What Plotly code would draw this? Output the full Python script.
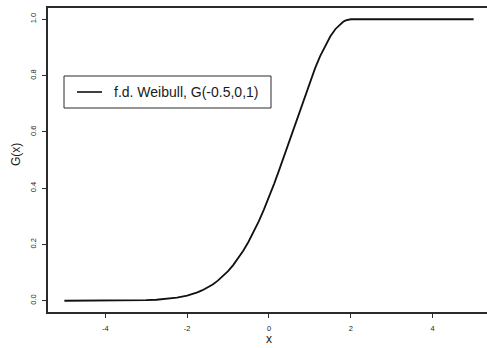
import plotly.graph_objects as go

# Data (GEV Weibull-type cdf, G(-0.5,0,1))
x_vals = [-5.0, -4.75, -4.5, -4.25, -4.0, -3.75, -3.5, -3.25, -3.0, -2.75, -2.5,
          -2.25, -2.0, -1.875, -1.75, -1.625, -1.5, -1.375, -1.25, -1.125, -1.0,
          -0.875, -0.75, -0.625, -0.5, -0.375, -0.25, -0.125, 0.0,
          0.125, 0.25, 0.375, 0.5, 0.625, 0.75, 0.875, 1.0, 1.125, 1.25, 1.375,
          1.5, 1.625, 1.75, 1.8125, 1.875, 1.9375, 2.0,
          2.5, 3.0, 3.5, 4.0, 4.5, 5.0]
g_vals = [0.0000, 0.0000, 0.0000, 0.0001, 0.0001, 0.0003, 0.0005, 0.0010, 0.0019, 0.0036, 0.0063,
          0.0109, 0.0183, 0.0234, 0.0297, 0.0375, 0.0468, 0.0579, 0.0713, 0.0870, 0.1054,
          0.1266, 0.1510, 0.1786, 0.2096, 0.2441, 0.2821, 0.3235, 0.3679,
          0.4152, 0.4650, 0.5167, 0.5698, 0.6234, 0.6767, 0.7288, 0.7788, 0.8256, 0.8688, 0.9070,
          0.9394, 0.9655, 0.9845, 0.9912, 0.9961, 0.9990, 1.0000,
          1.0, 1.0, 1.0, 1.0, 1.0, 1.0]
x_ticks = [-4, -2, 0, 2, 4]
y_ticks = [0.0, 0.2, 0.4, 0.6, 0.8, 1.0]
y_ticklabels = ["0.0", "0.2", "0.4", "0.6", "0.8", "1.0"]
legend_label = "f.d. Weibull, G(-0.5,0,1)"

W, H = 487, 348
ML, MR, MT, MB = 48, 0, 8, 36
PW, PH = W - ML - MR, H - MT - MB
FONT = "Liberation Sans, Arial, sans-serif"
INK = "#1a1a1a"
FRAME = "#2b2b2b"


def px(xp):
    return (xp - ML) / PW


def py(yp):
    return (H - MB - yp) / PH


fig = go.Figure()
fig.add_trace(go.Scatter(x=x_vals, y=g_vals, mode="lines",
                         line=dict(color="#111111", width=1.8),
                         showlegend=False, hoverinfo="skip"))

fig.update_layout(
    width=W, height=H,
    margin=dict(l=ML, r=MR, t=MT, b=MB, pad=0),
    paper_bgcolor="white", plot_bgcolor="white",
    font=dict(family=FONT, color=INK),
    showlegend=False,
    xaxis=dict(range=[-5.4, 5.327], tickvals=x_ticks, ticktext=[str(v) for v in x_ticks],
               showgrid=False, zeroline=False, showline=True, linecolor=FRAME, linewidth=1.5,
               mirror=True, ticks="outside", ticklen=4, tickwidth=1, tickcolor=FRAME,
               tickfont=dict(size=7.5, color=INK, family=FONT), ticklabelstandoff=4),
    yaxis=dict(range=[-0.04, 1.04], tickvals=y_ticks, ticktext=y_ticklabels,
               showgrid=False, zeroline=False, showline=True, linecolor=FRAME, linewidth=1.5,
               mirror=False, ticks="outside", ticklen=4, tickwidth=1, tickcolor=FRAME,
               tickangle=-90, tickfont=dict(size=7.5, color=INK, family=FONT),
               ticklabelstandoff=3),
)

# axis titles
fig.add_annotation(text="x", xref="paper", yref="paper", x=px(269), y=py(339),
                   showarrow=False, font=dict(size=12, color=INK, family=FONT),
                   xanchor="center", yanchor="middle")
fig.add_annotation(text="G(x)", xref="paper", yref="paper", x=px(16), y=py(155),
                   showarrow=False, textangle=-90, font=dict(size=12, color=INK, family=FONT),
                   xanchor="center", yanchor="middle")

# legend box (R style)
fig.add_shape(type="rect", xref="paper", yref="paper",
              x0=px(64), x1=px(271), y0=py(76), y1=py(108),
              line=dict(color=FRAME, width=1), fillcolor="white", layer="above")
fig.add_shape(type="line", xref="paper", yref="paper",
              x0=px(77), x1=px(102), y0=py(92), y1=py(92),
              line=dict(color="#111111", width=1.6), layer="above")
fig.add_annotation(text=legend_label, xref="paper", yref="paper", x=px(112), y=py(92),
                   showarrow=False, xanchor="left", yanchor="middle",
                   font=dict(size=14, color=INK, family=FONT))

fig.write_html("out.html")
